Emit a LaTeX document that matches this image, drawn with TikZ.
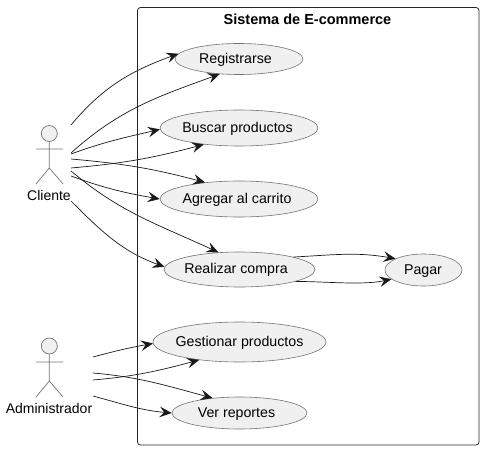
\documentclass[tikz,border=0pt]{standalone}
\usepackage{fontspec}
\setmainfont{Liberation Sans}
\usetikzlibrary{shapes}
\usetikzlibrary{arrows.meta}

\begin{document}
\begin{tikzpicture}[x=1pt,y=-1pt]
	\tikzstyle{usecase}=[ellipse,draw=black!55,fill=black!6,line width=0.6pt,inner sep=0pt,text height=10.8pt,text depth=2.5pt,font=\fontsize{14.2}{16}\selectfont]
	\tikzstyle{actorline}=[draw=black!55,line width=0.7pt]
	\tikzstyle{actorname}=[inner sep=0pt,font=\fontsize{14}{16}\selectfont]
	\tikzstyle{link}=[draw=black!90,line width=0.7pt,-{Stealth[length=12pt,width=10.5pt,inset=4.5pt]}]

	\useasboundingbox (0,0) rectangle (483,450);
	\draw[black!85,line width=0.8pt,rounded corners=3pt] (137.5,7.5) rectangle (479,445);
	\node[inner sep=0pt,font=\bfseries\fontsize{14.5}{16}\selectfont] (title) at (307.5,19) {Sistema de E-commerce};

	\node[usecase,minimum width=128pt,minimum height=31pt] (registrarse) at (239,59) {\hspace*{-7pt}Registrarse};
	\node[usecase,minimum width=158pt,minimum height=36pt] (buscar) at (239,128) {\hspace*{-3pt}Buscar productos};
	\node[usecase,minimum width=158pt,minimum height=36pt] (agregar) at (239,199) {\hspace*{-4pt}Agregar al carrito};
	\node[usecase,minimum width=151pt,minimum height=35pt] (realizar) at (239.5,269.5) {\hspace*{-7pt}Realizar compra};
	\node[usecase,minimum width=77pt,minimum height=32pt] (pagar) at (423.5,270) {\hspace*{-1pt}Pagar};
	\node[usecase,minimum width=173pt,minimum height=40pt] (gestionar) at (239.5,342) {\makebox[100pt]{Gestionar productos}};
	\node[usecase,minimum width=135pt,minimum height=32pt] (reportes) at (239.5,413) {\hspace*{-6pt}Ver reportes};

	% Cliente
	\draw[actorline,fill=black!6] (49.3,133.5) circle (8pt);
	\draw[actorline] (49.3,141.5) -- (49.3,168) (36,149) -- (63,149) (36,184) -- (49.3,168) -- (63,184);
	\node[actorname] (cliente) at (49,195) {Cliente};
	% Administrador
	\draw[actorline,fill=black!6] (49.3,346) circle (8pt);
	\draw[actorline] (49.3,354) -- (49.3,381) (36,362) -- (63,362) (36,397) -- (49.3,381) -- (63,397);
	\node[actorname] (admin) at (49,408) {Administrador};

	\coordinate (cli1) at (71,125);
	\coordinate (cli2) at (71,153);
	\coordinate (cli3) at (71,154);
	\coordinate (cli4) at (71,168);
	\coordinate (cli5) at (71,159);
	\coordinate (cli6) at (71,176);
	\coordinate (cli7) at (71,171);
	\coordinate (cli8) at (71,201);
	\coordinate (adm1) at (93,357);
	\coordinate (adm2) at (93,380);
	\coordinate (adm3) at (93,373);
	\coordinate (adm4) at (93,396);

	\draw[link] (cli1) to[out=50,in=200] (registrarse.175);
	\draw[link] (cli2) to[out=42,in=200] (registrarse.218);
	\draw[link] (cli3) to[out=20,in=193] (buscar.181);
	\draw[link] (cli4) to[out=5,in=195] (buscar.205);
	\draw[link] (cli5) to[out=-5,in=165] (agregar.154);
	\draw[link] (cli6) to[out=-20,in=170] (agregar.west);
	\draw[link] (cli7) to[out=-40,in=155] (realizar.141);
	\draw[link] (cli8) to[out=-45,in=160] (realizar.178);
	\draw[link] (realizar.13) to[out=3,in=170] (pagar.158);
	\draw[link] (realizar.-12) to[out=0,in=192,looseness=0.8] (pagar.196);
	\draw[link] (adm1) to[out=15,in=190] (gestionar.181);
	\draw[link] (adm2) to[out=5,in=195] (gestionar.204);
	\draw[link] (adm3) to[out=-5,in=165] (reportes.151);
	\draw[link] (adm4) to[out=-15,in=175] (reportes.west);
\end{tikzpicture}
\end{document}
